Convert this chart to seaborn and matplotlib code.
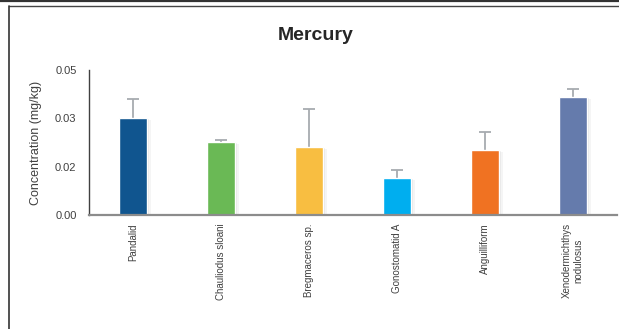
import matplotlib
matplotlib.use("Agg")
import matplotlib.pyplot as plt
from matplotlib.lines import Line2D
import matplotlib.patheffects as pe
import seaborn as sns
import pandas as pd

species = ["Pandalid", "Chauliodus sloani", "Bregmaceros sp.", "Gonostomatid A",
           "Anguilliform", "Xenodermichthys\nnodulosus"]
mercury = [0.0300, 0.0226, 0.0210, 0.0114, 0.0201, 0.0365]
mercury_sd = [0.0059, 0.0008, 0.0118, 0.0026, 0.0058, 0.0027]
bar_colors = ["#10558F", "#6AB955", "#F8BE41", "#00AEEF", "#F07222", "#657BAC"]
ytick_values = [0.0, 0.015, 0.03, 0.045]
ytick_labels = ["0.00", "0.02", "0.03", "0.05"]

sns.set_theme(style="white")
plt.rcParams["font.family"] = ["Liberation Sans", "DejaVu Sans"]

df = pd.DataFrame({"species": species, "mercury": mercury})

fig = plt.figure(figsize=(6.19, 3.29), dpi=100)
ax = fig.add_axes([89 / 619, (329 - 215) / 329, (617 - 89) / 619, (215 - 70) / 329])

sns.barplot(data=df, x="species", y="mercury", hue="species", palette=bar_colors,
            width=0.32, errorbar=None, legend=False, ax=ax, saturation=1)

# soft drop shadow behind each bar
for patch in ax.patches:
    patch.set_zorder(2)
    patch.set_path_effects([
        pe.SimplePatchShadow(offset=(3, -1), shadow_rgbFace="#000000", alpha=0.04),
        pe.SimplePatchShadow(offset=(1.5, -0.5), shadow_rgbFace="#000000", alpha=0.06),
        pe.Normal()])

# upper-only error bars; the lower cap sits hidden inside the bar
xs = [p.get_x() + p.get_width() / 2 for p in ax.patches]
hidden = [0.0006] * len(mercury_sd)
ax.errorbar(xs, mercury, yerr=[hidden, mercury_sd], fmt="none",
            ecolor="#A7ABB0", elinewidth=1.3, capsize=4, capthick=1.3, zorder=1)

ax.set_ylim(0, 0.045)
ax.set_xlim(-0.5, len(species) - 0.5)
ax.set_yticks(ytick_values)
ax.set_yticklabels(ytick_labels, fontsize=8, color="#404040")
ax.tick_params(axis="y", length=0, pad=9)
ax.tick_params(axis="x", length=0, pad=6)
ax.set_xticks(range(len(species)))
ax.set_xticklabels(species, rotation=90, fontsize=7, color="#404040",
                   va="top", ha="center", multialignment="center")
ax.set_xlabel("")
ax.set_ylabel("Concentration (mg/kg)", fontsize=9, color="#404040", labelpad=9)

for side in ["top", "right"]:
    ax.spines[side].set_visible(False)
ax.spines["left"].set_color("#404040")
ax.spines["left"].set_linewidth(1.0)
ax.spines["bottom"].set_color("#8C8C8C")
ax.spines["bottom"].set_linewidth(1.6)
ax.spines["bottom"].set_zorder(3)

fig.text(316 / 619, 1 - 35 / 329, "Mercury", ha="center", va="center",
         fontsize=14, fontweight="bold", color="#262626")

# outer frame
fig.add_artist(Line2D([0, 1], [1 - 0.8 / 329, 1 - 0.8 / 329], color="#333333", lw=1.6,
                      transform=fig.transFigure))
fig.add_artist(Line2D([9 / 619, 1], [1 - 5.5 / 329, 1 - 5.5 / 329], color="#444444", lw=1.0,
                      transform=fig.transFigure))
fig.add_artist(Line2D([9 / 619, 9 / 619], [0, 1 - 5.5 / 329], color="#333333", lw=1.2,
                      transform=fig.transFigure))

fig.savefig("out.png", dpi=100)
